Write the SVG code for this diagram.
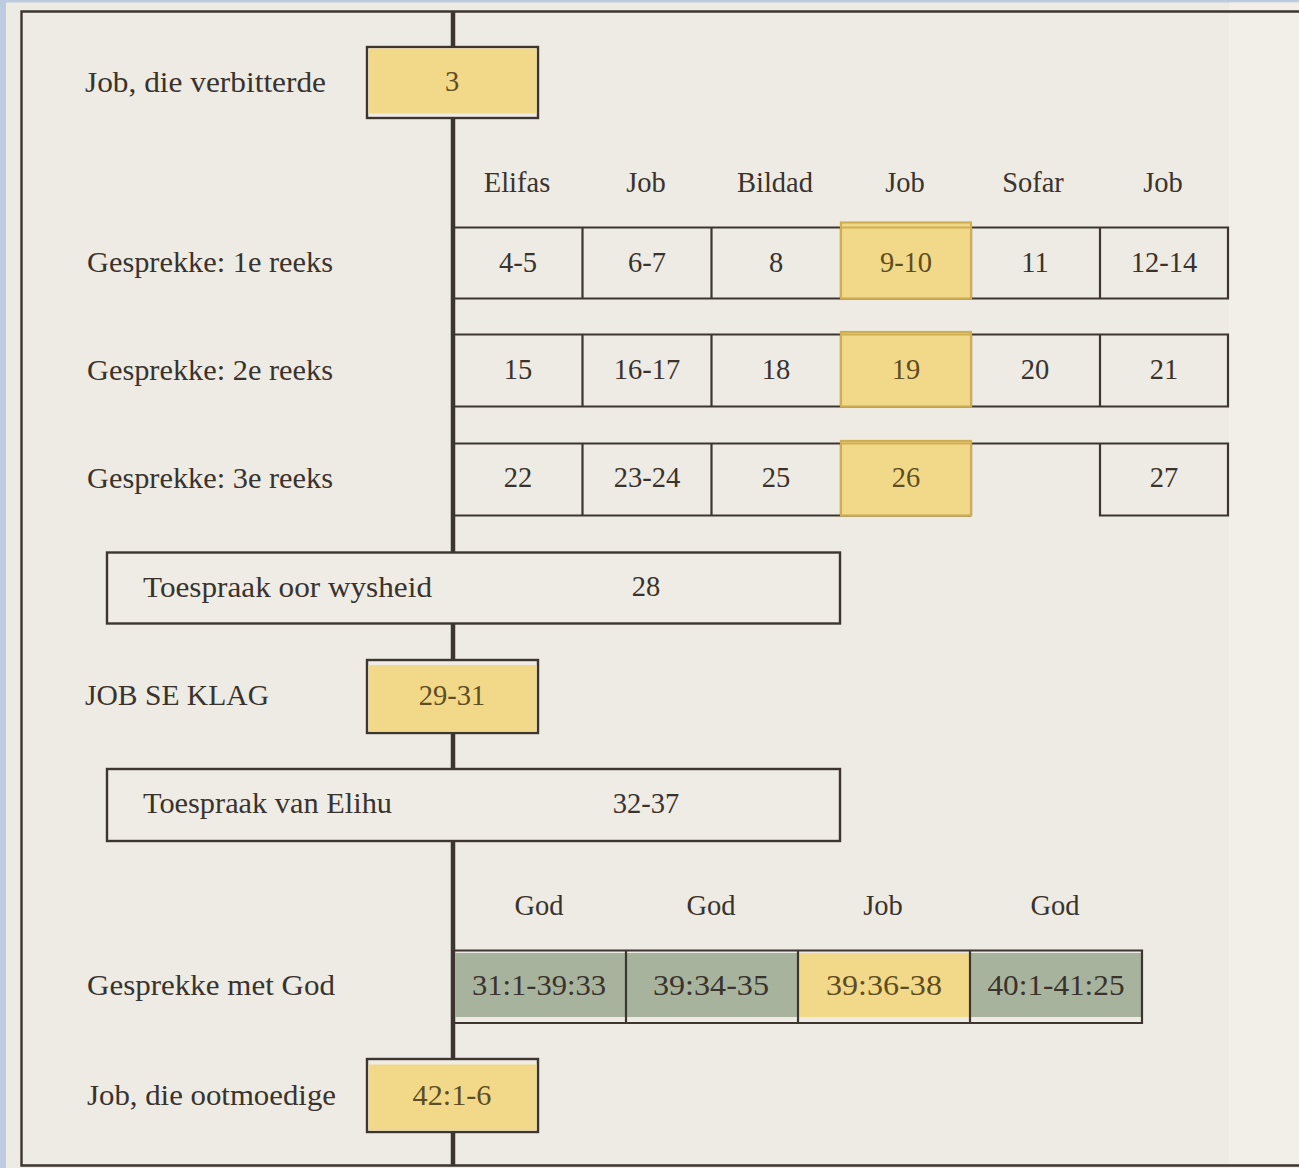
<svg xmlns="http://www.w3.org/2000/svg" width="1299" height="1168" viewBox="0 0 1299 1168">
<style>
  text { fill: #3a332d; }
  .lbl { font-size: 30px; }
  .num { font-size: 28.5px; text-anchor: middle; }
  .spk { font-size: 28.5px; text-anchor: middle; }
  .ynum { fill: #5f4d22; }
  .cell { fill: none; stroke: #3d3630; stroke-width: 2.2; }
  .box { fill: #eeece4; stroke: #3d3630; stroke-width: 2.4; }
  .yel { fill: #f2d98a; }
  .ycell { fill: #f2d98a; stroke: #cfae52; stroke-width: 2.2; }
  .grn { fill: #a8b39d; }
  .spine { stroke: #3d3630; stroke-width: 4.5; fill: none; }
  .frame { stroke: #3d3630; stroke-width: 2.4; fill: none; }
</style>

<!-- background -->
<rect x="0" y="0" width="1299" height="1168" fill="#bccbdf"/>
<rect x="6" y="2.5" width="1293" height="1165.5" fill="#edebe3"/>
<rect x="1229" y="2.5" width="70" height="1165.5" fill="#f1efe8"/>

<!-- frame -->
<g id="frame">
  <path class="frame" d="M1299 11.5 H21.5 V1165.5 H1299"/>
</g>

<!-- connectors -->
<g id="connectors">
  <line class="spine" x1="453" y1="11" x2="453" y2="1165"/>
</g>

<g font-family="'Liberation Serif', 'DejaVu Serif', serif">

<!-- Job, die verbitterde -->
<g id="node-verbitterde">
  <text class="lbl" x="85" y="92" textLength="241" lengthAdjust="spacingAndGlyphs">Job, die verbitterde</text>
  <rect class="box" x="367" y="47" width="171" height="71"/>
  <rect class="yel" x="368.5" y="48.5" width="168" height="65"/>
  <text class="num ynum" x="452" y="91">3</text>
</g>

<!-- speaker headings -->
<g id="speakers">
  <text class="spk" x="517" y="192">Elifas</text>
  <text class="spk" x="646" y="192">Job</text>
  <text class="spk" x="775" y="192">Bildad</text>
  <text class="spk" x="905" y="192">Job</text>
  <text class="spk" x="1033" y="192">Sofar</text>
  <text class="spk" x="1163" y="192">Job</text>
</g>

<!-- Round 1 -->
<g id="node-reeks1">
  <text class="lbl" x="87" y="272" textLength="246" lengthAdjust="spacingAndGlyphs">Gesprekke: 1e reeks</text>
  <path class="cell" d="M455 227.5 H1228 V298.5 H455 M582.5 227.5 V298.5 M711.5 227.5 V298.5 M841 227.5 V298.5 M971 227.5 V298.5 M1100 227.5 V298.5"/>
  <rect class="ycell" x="841" y="222.5" width="130" height="76"/>
  <line x1="841" y1="227.5" x2="971" y2="227.5" stroke="#cfae52" stroke-width="2"/>
  <text class="num" x="518" y="272">4-5</text>
  <text class="num" x="647" y="272">6-7</text>
  <text class="num" x="776" y="272">8</text>
  <text class="num ynum" x="906" y="272">9-10</text>
  <text class="num" x="1035" y="272">11</text>
  <text class="num" x="1164" y="272">12-14</text>
</g>

<!-- Round 2 -->
<g id="node-reeks2">
  <text class="lbl" x="87" y="380" textLength="246" lengthAdjust="spacingAndGlyphs">Gesprekke: 2e reeks</text>
  <path class="cell" d="M455 334.5 H1228 V406.5 H455 M582.5 334.5 V406.5 M711.5 334.5 V406.5 M841 334.5 V406.5 M971 334.5 V406.5 M1100 334.5 V406.5"/>
  <rect class="ycell" x="841" y="332" width="130" height="74.5"/>
  <line x1="841" y1="334.5" x2="971" y2="334.5" stroke="#cfae52" stroke-width="2"/>
  <text class="num" x="518" y="379">15</text>
  <text class="num" x="647" y="379">16-17</text>
  <text class="num" x="776" y="379">18</text>
  <text class="num ynum" x="906" y="379">19</text>
  <text class="num" x="1035" y="379">20</text>
  <text class="num" x="1164" y="379">21</text>
</g>

<!-- Round 3 -->
<g id="node-reeks3">
  <text class="lbl" x="87" y="488" textLength="246" lengthAdjust="spacingAndGlyphs">Gesprekke: 3e reeks</text>
  <path class="cell" d="M455 443.5 H1228 V515.5 H1100 V443.5 M971 515.5 H455 M582.5 443.5 V515.5 M711.5 443.5 V515.5 M841 443.5 V515.5 M971 443.5 V515.5"/>
  <rect class="ycell" x="841" y="441" width="130" height="74.5"/>
  <line x1="841" y1="443.5" x2="971" y2="443.5" stroke="#cfae52" stroke-width="2"/>
  <text class="num" x="518" y="487">22</text>
  <text class="num" x="647" y="487">23-24</text>
  <text class="num" x="776" y="487">25</text>
  <text class="num ynum" x="906" y="487">26</text>
  <text class="num" x="1164" y="487">27</text>
</g>

<!-- Toespraak oor wysheid -->
<g id="node-wysheid">
  <rect class="box" x="107" y="552.5" width="733" height="71"/>
  <text class="lbl" x="143" y="597" textLength="289" lengthAdjust="spacingAndGlyphs">Toespraak oor wysheid</text>
  <text class="num" x="646" y="596">28</text>
</g>

<!-- JOB SE KLAG -->
<g id="node-klag">
  <text class="lbl" x="85" y="705" textLength="184" lengthAdjust="spacingAndGlyphs">JOB SE KLAG</text>
  <rect class="box" x="367" y="660" width="171" height="73"/>
  <rect class="yel" x="368.5" y="665" width="168" height="66.5"/>
  <text class="num ynum" x="452" y="705">29-31</text>
</g>

<!-- Toespraak van Elihu -->
<g id="node-elihu">
  <rect class="box" x="107" y="769" width="733" height="72"/>
  <text class="lbl" x="143" y="813" textLength="249" lengthAdjust="spacingAndGlyphs">Toespraak van Elihu</text>
  <text class="num" x="646" y="813">32-37</text>
</g>

<!-- God headings -->
<g id="god-speakers">
  <text class="spk" x="539" y="915">God</text>
  <text class="spk" x="711" y="915">God</text>
  <text class="spk" x="883" y="915">Job</text>
  <text class="spk" x="1055" y="915">God</text>
</g>

<!-- Gesprekke met God -->
<g id="node-god">
  <text class="lbl" x="87" y="995" textLength="248" lengthAdjust="spacingAndGlyphs">Gesprekke met God</text>
  <rect class="grn" x="455" y="953" width="170" height="64"/>
  <rect class="grn" x="627" y="953" width="170" height="64"/>
  <rect class="yel" x="799" y="953" width="170" height="64"/>
  <rect class="grn" x="971" y="953" width="170" height="64"/>
  <path class="cell" d="M455 950.5 H1142 V1023 H455 M626 950.5 V1023 M798 950.5 V1023 M970 950.5 V1023"/>
  <text class="num" x="539" y="995" textLength="134" lengthAdjust="spacingAndGlyphs">31:1-39:33</text>
  <text class="num" x="711" y="995" textLength="116" lengthAdjust="spacingAndGlyphs">39:34-35</text>
  <text class="num ynum" x="884" y="995" textLength="116" lengthAdjust="spacingAndGlyphs">39:36-38</text>
  <text class="num" x="1056" y="995" textLength="137" lengthAdjust="spacingAndGlyphs">40:1-41:25</text>
</g>

<!-- Job, die ootmoedige -->
<g id="node-ootmoedige">
  <text class="lbl" x="87" y="1105" textLength="249" lengthAdjust="spacingAndGlyphs">Job, die ootmoedige</text>
  <rect class="box" x="367" y="1059" width="171" height="73"/>
  <rect class="yel" x="368.5" y="1064.5" width="168" height="66"/>
  <text class="num ynum" x="452" y="1105" textLength="79" lengthAdjust="spacingAndGlyphs">42:1-6</text>
</g>

</g>
</svg>
